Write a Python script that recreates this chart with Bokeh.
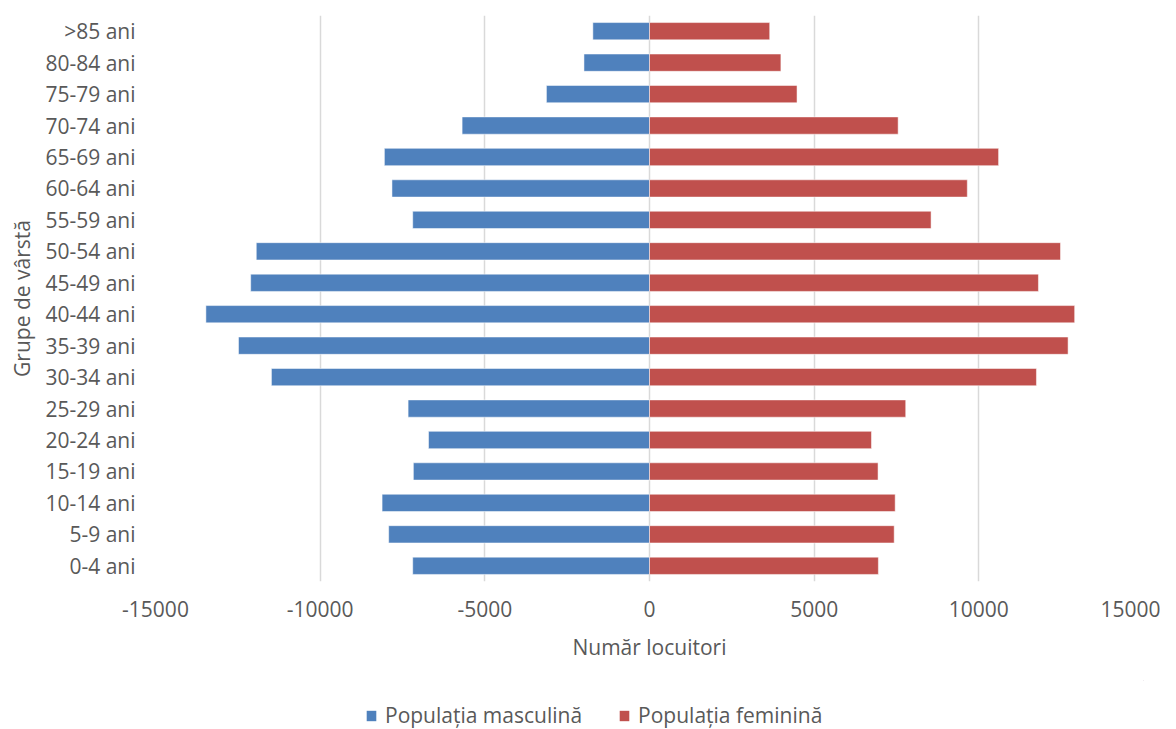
from bokeh.plotting import figure
from bokeh.layouts import column
from bokeh.models import ColumnDataSource, FixedTicker, Legend, LegendItem, PrintfTickFormatter
from bokeh.embed import file_html
from bokeh.resources import INLINE

age_groups = ["0-4 ani", "5-9 ani", "10-14 ani", "15-19 ani", "20-24 ani", "25-29 ani",
              "30-34 ani", "35-39 ani", "40-44 ani", "45-49 ani", "50-54 ani", "55-59 ani",
              "60-64 ani", "65-69 ani", "70-74 ani", "75-79 ani", "80-84 ani", ">85 ani"]
male = [-7190, -7920, -8120, -7170, -6710, -7330,
        -11480, -12480, -13470, -12110, -11940, -7190,
        -7820, -8050, -5690, -3130, -1990, -1720]
female = [6950, 7430, 7460, 6940, 6740, 7780,
          11750, 12710, 12910, 11810, 12480, 8550,
          9650, 10600, 7550, 4480, 3990, 3650]
x_ticks = [-15000, -10000, -5000, 0, 5000, 10000, 15000]
series_names = ["Populația masculină", "Populația feminină"]
colors = ["#4F81BD", "#C0504D"]

FONT = "Open Sans"
TXT = "#595959"

src = ColumnDataSource(dict(age=age_groups, male=male, female=female))

p = figure(y_range=age_groups, x_range=(-15000, 15000),
           width=1160, height=680,
           min_border_left=155, min_border_right=17, min_border_top=15, min_border_bottom=99,
           output_backend="svg", toolbar_location=None, background_fill_color="white",
           border_fill_color="white")
p.outline_line_color = None

p.hbar(y="age", left=0, right="male", height=0.55, source=src,
       fill_color=colors[0], line_color="white", line_alpha=0.5, line_width=1)
p.hbar(y="age", left=0, right="female", height=0.55, source=src,
       fill_color=colors[1], line_color="white", line_alpha=0.5, line_width=1)

p.xaxis.ticker = FixedTicker(ticks=x_ticks)
p.xaxis.formatter = PrintfTickFormatter(format="%d")
p.xgrid.ticker = FixedTicker(ticks=x_ticks)
p.xgrid.grid_line_color = "#D9D9D9"
p.xgrid.grid_line_width = 1.5
p.ygrid.grid_line_color = None

for ax in (p.xaxis[0], p.yaxis[0]):
    ax.axis_line_color = None
    ax.major_tick_line_color = None
    ax.minor_tick_line_color = None
    ax.major_label_text_font = FONT
    ax.major_label_text_font_size = "21px"
    ax.major_label_text_color = TXT
    ax.axis_label_text_font = FONT
    ax.axis_label_text_font_size = "21px"
    ax.axis_label_text_font_style = "normal"
    ax.axis_label_text_color = TXT

p.xaxis.axis_label = "Număr locuitori"
p.xaxis.major_label_standoff = 13
p.xaxis.axis_label_standoff = 13
p.yaxis.axis_label = "Grupe de vârstă"
p.yaxis.major_label_standoff = 14
p.yaxis.axis_label_standoff = 6

# legend strip below the chart: legend-only proxy glyphs whose data lies outside the
# strip's visible range, so only the legend swatches appear
lg = figure(width=1160, height=49, x_range=(0, 1), y_range=(0, 1),
            x_axis_type=None, y_axis_type=None, min_border=0,
            output_backend="svg", toolbar_location=None,
            background_fill_color="white", border_fill_color="white")
lg.outline_line_color = None
lg.xgrid.visible = False
lg.ygrid.visible = False
proxy_src = ColumnDataSource(dict(y=[5], l=[5], r=[6]))
proxy_m = lg.hbar(y="y", left="l", right="r", height=0.5, source=proxy_src,
                  fill_color=colors[0], line_color=None)
proxy_f = lg.hbar(y="y", left="l", right="r", height=0.5, source=proxy_src,
                  fill_color=colors[1], line_color=None)

legend = Legend(items=[LegendItem(label=series_names[0], renderers=[proxy_m]),
                       LegendItem(label=series_names[1], renderers=[proxy_f])],
                orientation="horizontal", location=(210, 0),
                label_text_font=FONT, label_text_font_size="21px", label_text_color=TXT,
                glyph_width=12, glyph_height=13, label_standoff=8, spacing=36,
                padding=0, margin=0, border_line_color=None, background_fill_alpha=0,
                label_height=13)
lg.add_layout(legend, "center")

layout = column(p, lg, spacing=0)
open("out.html", "w").write(file_html(layout, INLINE))
